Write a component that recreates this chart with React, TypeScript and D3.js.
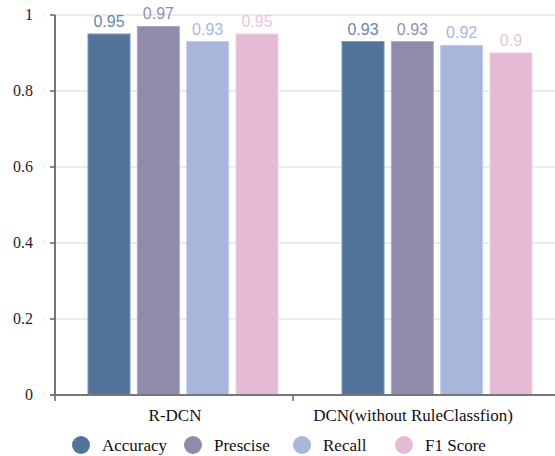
import React from "react";
import * as d3 from "d3";

// Model names on the x axis and the metric series
const models = ["R-DCN", "DCN(without RuleClassfion)"];
const metrics = ["Accuracy", "Prescise", "Recall", "F1 Score"];
const accuracy = [0.95, 0.93];
const prescise = [0.97, 0.93];
const recall = [0.93, 0.92];
const f1Score = [0.95, 0.9];
const yTicks = [0, 0.2, 0.4, 0.6, 0.8, 1];

const seriesValues = [accuracy, prescise, recall, f1Score];
const fills = ["#52749b", "#8f8cab", "#a8b6dc", "#e4bad5"];
const labelColors = ["#6a86ab", "#948fb0", "#a9b7de", "#ecc4dd"];
const strokes = ["#7b95b6", "#aeaac4", "#c3cdea", "#eed2e3"];

const W = 555;
const H = 456;
const left = 55;
const top = 15;
const bottom = 395;

export default function App() {
  const y = d3.scaleLinear().domain([0, 1]).range([bottom, top]);
  // axis categories (ticks and labels)
  const xAxis = d3.scaleBand().domain(models).range([54, 530]);
  // bar groups
  const xGroup = d3.scaleBand().domain(models).range([56, 564]);
  const xInner = d3
    .scaleBand()
    .domain(metrics)
    .range([-95, 95])
    .paddingInner(0.148);

  const serif = "'Liberation Serif', 'Times New Roman', serif";
  const sans = "'Liberation Sans', Arial, sans-serif";

  const legendX = [81, 193, 302, 404];

  return (
    <svg
      width={W}
      height={H}
      style={{ position: "absolute", left: 0, top: 0, background: "#fff" }}
    >
      {/* grid lines */}
      {yTicks.map((t) => (
        <line
          key={"g" + t}
          x1={left}
          x2={W}
          y1={y(t)}
          y2={y(t)}
          stroke="#e6e6e6"
          strokeWidth={1.5}
        />
      ))}

      {/* bars */}
      {models.map((m, i) => (
        <g key={m} transform={`translate(${xGroup(m)! + xGroup.bandwidth() / 2},0)`}>
          {metrics.map((k, j) => {
            const v = seriesValues[j][i];
            const bx = xInner(k)!;
            return (
              <g key={k}>
                <rect
                  x={bx}
                  y={y(v)}
                  width={xInner.bandwidth()}
                  height={bottom - y(v)}
                  fill={fills[j]}
                  stroke={strokes[j]}
                  strokeWidth={1}
                />
                <text
                  x={bx + xInner.bandwidth() / 2}
                  y={y(v) - 7}
                  textAnchor="middle"
                  fontFamily={sans}
                  fontSize={16}
                  fill={labelColors[j]}
                >
                  {String(v)}
                </text>
              </g>
            );
          })}
        </g>
      ))}

      {/* y axis */}
      <line x1={left} x2={left} y1={top} y2={bottom} stroke="#777" strokeWidth={2} />
      {yTicks.map((t) => (
        <g key={"t" + t}>
          <line x1={50} x2={left} y1={y(t)} y2={y(t)} stroke="#666" strokeWidth={1.5} />
          <line
            x1={43.5}
            x2={43.5}
            y1={y(t) - 3}
            y2={y(t) + 3}
            stroke="#e2e2e2"
            strokeWidth={1}
            strokeDasharray="1.5,1.5"
          />
          <text
            x={33}
            y={y(t) + 5}
            textAnchor="end"
            fontFamily={serif}
            fontSize={16}
            fill="#1f2233"
          >
            {String(t)}
          </text>
        </g>
      ))}

      {/* x axis */}
      <line x1={50} x2={W} y1={bottom} y2={bottom} stroke="#777" strokeWidth={2} />
      {[xAxis(models[0])!, xAxis(models[1])!].map((tx, i) => (
        <line
          key={"xt" + i}
          x1={tx + 1}
          x2={tx + 1}
          y1={bottom}
          y2={bottom + 6}
          stroke="#666"
          strokeWidth={1.5}
        />
      ))}
      {models.map((m) => (
        <text
          key={"l" + m}
          x={xAxis(m)! + xAxis.bandwidth() / 2 + 2}
          y={421}
          textAnchor="middle"
          fontFamily={serif}
          fontSize={17}
          fill="#111"
        >
          {m}
        </text>
      ))}

      {/* legend */}
      {metrics.map((k, j) => (
        <g key={"lg" + k}>
          <circle cx={legendX[j]} cy={445} r={9} fill={fills[j]} />
          <text
            x={legendX[j] + 21}
            y={450.5}
            fontFamily={serif}
            fontSize={17}
            fill="#111"
          >
            {k}
          </text>
        </g>
      ))}
    </svg>
  );
}
